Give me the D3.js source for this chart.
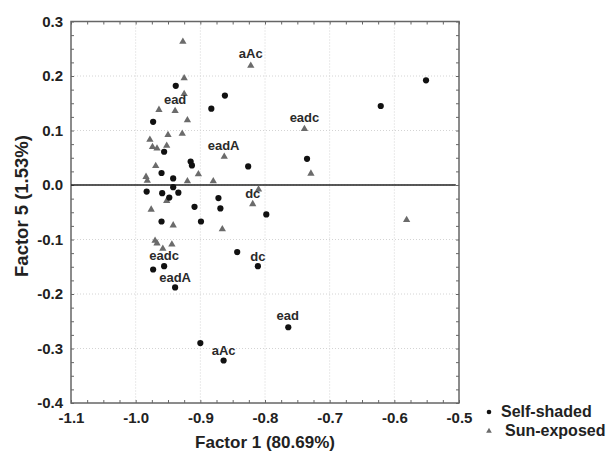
<!DOCTYPE html>
<html>
<head>
<meta charset="utf-8">
<script src="https://cdn.jsdelivr.net/npm/d3@7"></script>
<style>
  body { margin: 0; background: #fff; }
  svg { font-family: "Liberation Sans", Arial, sans-serif; }
</style>
</head>
<body>
<div id="viz"></div>
<script>
// Self-shaded samples (Factor 1, Factor 5)
const shadedX = [-0.938, -0.862, -0.883, -0.973, -0.956, -0.915, -0.913, -0.826, -0.960, -0.942,
  -0.735, -0.621, -0.551, -0.942, -0.983, -0.959, -0.934, -0.948, -0.872, -0.909,
  -0.869, -0.798, -0.960, -0.899, -0.843, -0.811, -0.956, -0.973, -0.939, -0.764,
  -0.900, -0.864];
const shadedY = [0.182, 0.164, 0.140, 0.116, 0.061, 0.043, 0.036, 0.034, 0.022, 0.012,
  0.048, 0.145, 0.192, -0.004, -0.012, -0.015, -0.014, -0.023, -0.024, -0.040,
  -0.043, -0.054, -0.067, -0.067, -0.123, -0.149, -0.149, -0.155, -0.188, -0.261,
  -0.290, -0.322];

// Sun-exposed samples
const sunX = [-0.927, -0.822, -0.925, -0.925, -0.964, -0.939, -0.920, -0.950, -0.928, -0.978,
  -0.974, -0.967, -0.952, -0.863, -0.739, -0.729, -0.969, -0.903, -0.984, -0.982,
  -0.920, -0.880, -0.810, -0.819, -0.952, -0.976, -0.942, -0.866, -0.581, -0.970,
  -0.967, -0.944, -0.958];
const sunY = [0.263, 0.219, 0.196, 0.167, 0.138, 0.136, 0.119, 0.092, 0.094, 0.083,
  0.070, 0.067, 0.072, 0.052, 0.103, 0.021, 0.035, 0.020, 0.015, 0.008,
  0.007, 0.007, -0.008, -0.035, -0.029, -0.045, -0.074, -0.081, -0.064, -0.102,
  -0.107, -0.109, -0.117];

// point annotations
const noteText = ["aAc", "ead", "eadA", "eadc", "dc", "eadc", "dc", "eadA", "ead", "aAc"];
const noteX = [-0.822, -0.939, -0.864, -0.739, -0.819, -0.956, -0.811, -0.939, -0.765, -0.864];
const noteY = [0.241, 0.157, 0.073, 0.123, -0.015, -0.130, -0.131, -0.170, -0.240, -0.303];

const xTicks = [-1.1, -1.0, -0.9, -0.8, -0.7, -0.6, -0.5];
const yTicks = [0.3, 0.2, 0.1, 0.0, -0.1, -0.2, -0.3, -0.4];
const seriesNames = ["Self-shaded", "Sun-exposed"];

const width = 611, height = 454;
const margin = { top: 21.5, right: 152, bottom: 51, left: 71 };

const svg = d3.select("#viz").append("svg")
  .attr("width", width)
  .attr("height", height);

const x = d3.scaleLinear().domain([-1.1, -0.5]).range([margin.left, width - margin.right]);
const y = d3.scaleLinear().domain([-0.4, 0.3]).range([height - margin.bottom, margin.top]);

const fmt = d => d.toFixed(1);

// grid
svg.append("g").selectAll("line")
  .data(xTicks.slice(1, -1))
  .join("line")
  .attr("x1", d => x(d)).attr("x2", d => x(d))
  .attr("y1", y(0.3)).attr("y2", y(-0.4))
  .attr("stroke", "#d4d4d4").attr("stroke-dasharray", "1,2");
svg.append("g").selectAll("line")
  .data(yTicks.slice(1, -1))
  .join("line")
  .attr("y1", d => y(d)).attr("y2", d => y(d))
  .attr("x1", x(-1.1)).attr("x2", x(-0.5))
  .attr("stroke", "#d4d4d4").attr("stroke-dasharray", "1,2");

// minor/major ticks pointing inward on all four sides
const xMinor = d3.range(0, 25).map(i => -1.1 + i * 0.025);
const yMinor = d3.range(0, 29).map(i => -0.4 + i * 0.025);
function tickAxis(axis, tx, ty) {
  const g = svg.append("g").attr("transform", `translate(${tx},${ty})`).call(axis);
  g.select(".domain").remove();
  g.selectAll("line").attr("stroke", "#666");
}
tickAxis(d3.axisBottom(x).tickValues(xMinor).tickSize(-3).tickFormat(""), 0, y(-0.4));
tickAxis(d3.axisTop(x).tickValues(xMinor).tickSize(-3).tickFormat(""), 0, y(0.3));
tickAxis(d3.axisLeft(y).tickValues(yMinor).tickSize(-3).tickFormat(""), x(-1.1), 0);
tickAxis(d3.axisRight(y).tickValues(yMinor).tickSize(-3).tickFormat(""), x(-0.5), 0);

// tick labels
const xAxis = svg.append("g")
  .attr("transform", `translate(0,${y(-0.4)})`)
  .call(d3.axisBottom(x).tickValues(xTicks).tickSize(0).tickPadding(9.5).tickFormat(fmt));
const yAxis = svg.append("g")
  .attr("transform", `translate(${x(-1.1)},0)`)
  .call(d3.axisLeft(y).tickValues(yTicks).tickSize(0).tickPadding(8).tickFormat(fmt));
[xAxis, yAxis].forEach(g => {
  g.select(".domain").remove();
  g.selectAll("text")
    .attr("font-family", "Liberation Sans, Arial, sans-serif")
    .attr("font-size", "15px")
    .attr("font-weight", "bold")
    .attr("fill", "#222");
});

// frame
svg.append("rect")
  .attr("x", x(-1.1)).attr("y", y(0.3))
  .attr("width", x(-0.5) - x(-1.1))
  .attr("height", y(-0.4) - y(0.3))
  .attr("fill", "none")
  .attr("stroke", "#666")
  .attr("stroke-width", 1.5);

// zero line
svg.append("line")
  .attr("x1", x(-1.1)).attr("x2", x(-0.505))
  .attr("y1", y(0)).attr("y2", y(0))
  .attr("stroke", "#222").attr("stroke-width", 1.6);

// triangles
const tri = d3.symbol().type(d3.symbolTriangle).size(23);
svg.append("g").attr("fill", "#6b6b6b")
  .selectAll("path")
  .data(d3.range(sunX.length))
  .join("path")
  .attr("d", tri)
  .attr("transform", i => `translate(${x(sunX[i])},${y(sunY[i])})`);

// circles
svg.append("g").attr("fill", "#111")
  .selectAll("circle")
  .data(d3.range(shadedX.length))
  .join("circle")
  .attr("cx", i => x(shadedX[i]))
  .attr("cy", i => y(shadedY[i]))
  .attr("r", 3.1);

// annotations
svg.append("g")
  .selectAll("text")
  .data(d3.range(noteText.length))
  .join("text")
  .attr("x", i => x(noteX[i]))
  .attr("y", i => y(noteY[i]))
  .attr("text-anchor", "middle")
  .attr("dominant-baseline", "central")
  .attr("font-size", "13px")
  .attr("font-weight", "bold")
  .attr("fill", "#2a2a2a")
  .text(i => noteText[i]);

// axis titles
svg.append("text")
  .attr("x", x(-0.8))
  .attr("y", 448)
  .attr("text-anchor", "middle")
  .attr("font-size", "17px")
  .attr("font-weight", "bold")
  .attr("fill", "#222")
  .text("Factor 1 (80.69%)");

svg.append("text")
  .attr("transform", "translate(28,206) rotate(-90)")
  .attr("text-anchor", "middle")
  .attr("font-size", "18.5px")
  .attr("font-weight", "bold")
  .attr("fill", "#222")
  .text("Factor 5 (1.53%)");

// legend
const legend = svg.append("g");
legend.append("circle").attr("cx", 489).attr("cy", 412).attr("r", 2.3).attr("fill", "#111");
legend.append("path")
  .attr("d", d3.symbol().type(d3.symbolTriangle).size(14))
  .attr("transform", "translate(489,431)")
  .attr("fill", "#6b6b6b");
legend.selectAll("text")
  .data(seriesNames)
  .join("text")
  .attr("x", (d, i) => i === 0 ? 501 : 505)
  .attr("y", (d, i) => i === 0 ? 417 : 436)
  .attr("font-size", "16px")
  .attr("font-weight", "bold")
  .attr("fill", "#222")
  .text(d => d);
</script>
</body>
</html>
